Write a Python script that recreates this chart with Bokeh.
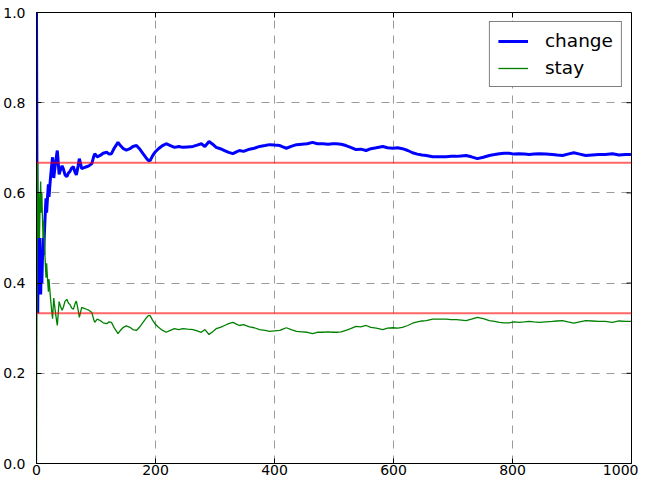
import math
from bokeh.plotting import figure
from bokeh.models import Range1d, FixedTicker, Legend, LegendItem, Span
from bokeh.embed import file_html
from bokeh.resources import INLINE

trial = list(range(0, 39)) + [
    40, 43, 45, 48, 51, 54, 56, 59, 62, 65, 67, 70, 72, 74, 76, 80, 84, 88, 93, 96,
    98, 102, 107, 112, 118, 122, 126, 131, 137, 141, 146, 151, 157, 162, 168, 173, 179, 184, 188, 191,
    195, 199, 205, 212, 218, 225, 232, 239, 246, 254, 263, 270, 277, 283, 290, 296, 302, 309, 316, 323,
    330, 336, 341, 348, 358, 366, 375, 384, 392, 400, 409, 414, 420, 428, 437, 446, 455, 464, 472, 481,
    490, 498, 504, 512, 520, 528, 537, 545, 554, 562, 571, 582, 590, 599, 607, 615, 624, 632, 640, 648,
    655, 666, 677, 688, 697, 706, 714, 722, 731, 741, 751, 761, 770, 778, 786, 794, 803, 811, 820, 828,
    836, 845, 856, 867, 875, 884, 893, 903, 913, 923, 934, 945, 956, 968, 979, 990, 999]

change = [
    1.0, 0.5, 0.333, 0.5, 0.4, 0.5, 0.429, 0.375, 0.444, 0.4, 0.455, 0.5, 0.462, 0.5, 0.533, 0.563,
    0.588, 0.556, 0.579, 0.6, 0.619, 0.591, 0.609, 0.625, 0.64, 0.654, 0.667, 0.679, 0.655, 0.633,
    0.645, 0.656, 0.667, 0.676, 0.686, 0.694, 0.676, 0.658, 0.641,
    0.65, 0.66, 0.654, 0.64, 0.636, 0.645, 0.647, 0.655, 0.658, 0.645,
    0.64, 0.66, 0.676, 0.665, 0.654, 0.656, 0.658, 0.66, 0.665, 0.68,
    0.687, 0.68, 0.683, 0.688, 0.69, 0.686, 0.687, 0.70, 0.712, 0.705,
    0.698, 0.695, 0.698, 0.703, 0.705, 0.698, 0.687, 0.678, 0.672, 0.672,
    0.682, 0.69, 0.698, 0.705, 0.709, 0.705, 0.701, 0.703, 0.701, 0.702,
    0.703, 0.706, 0.709, 0.703, 0.714, 0.708, 0.701, 0.698, 0.694, 0.69,
    0.687, 0.691, 0.694, 0.692, 0.697, 0.699, 0.703, 0.705, 0.707, 0.706,
    0.705, 0.702, 0.699, 0.703, 0.707, 0.708, 0.709, 0.712, 0.709, 0.709,
    0.708, 0.709, 0.709, 0.708, 0.705, 0.701, 0.696, 0.697, 0.694, 0.698,
    0.700, 0.703, 0.700, 0.699, 0.700, 0.698, 0.694, 0.689, 0.686, 0.684,
    0.683, 0.680, 0.680, 0.680, 0.681, 0.681, 0.682, 0.683, 0.680, 0.676,
    0.679, 0.683, 0.685, 0.687, 0.688, 0.688, 0.686, 0.687, 0.686, 0.685,
    0.686, 0.687, 0.686, 0.685, 0.684, 0.683, 0.686, 0.689, 0.686, 0.683,
    0.684, 0.685, 0.685, 0.687, 0.684, 0.685, 0.685]

stay = [
    0.0, 0.5, 0.667, 0.5, 0.6, 0.5, 0.571, 0.625, 0.556, 0.6, 0.545, 0.5, 0.538, 0.5, 0.467, 0.438,
    0.412, 0.444, 0.421, 0.4, 0.381, 0.409, 0.391, 0.375, 0.36, 0.346, 0.333, 0.321, 0.345, 0.367,
    0.355, 0.344, 0.333, 0.324, 0.314, 0.306, 0.324, 0.342, 0.359,
    0.35, 0.34, 0.346, 0.36, 0.364, 0.355, 0.353, 0.345, 0.342, 0.355,
    0.36, 0.34, 0.324, 0.335, 0.346, 0.344, 0.342, 0.34, 0.335, 0.32,
    0.313, 0.32, 0.317, 0.312, 0.31, 0.314, 0.313, 0.30, 0.288, 0.295,
    0.302, 0.305, 0.302, 0.297, 0.295, 0.302, 0.313, 0.322, 0.328, 0.328,
    0.318, 0.31, 0.302, 0.295, 0.291, 0.295, 0.299, 0.297, 0.299, 0.298,
    0.297, 0.294, 0.291, 0.297, 0.286, 0.292, 0.299, 0.302, 0.306, 0.31,
    0.313, 0.309, 0.306, 0.308, 0.303, 0.301, 0.297, 0.295, 0.293, 0.294,
    0.295, 0.298, 0.301, 0.297, 0.293, 0.292, 0.291, 0.288, 0.291, 0.291,
    0.292, 0.291, 0.291, 0.292, 0.295, 0.299, 0.304, 0.303, 0.306, 0.302,
    0.300, 0.297, 0.300, 0.301, 0.300, 0.302, 0.306, 0.311, 0.314, 0.316,
    0.317, 0.320, 0.320, 0.320, 0.319, 0.319, 0.318, 0.317, 0.320, 0.324,
    0.321, 0.317, 0.315, 0.313, 0.312, 0.312, 0.314, 0.313, 0.314, 0.315,
    0.314, 0.313, 0.314, 0.315, 0.316, 0.317, 0.314, 0.311, 0.314, 0.317,
    0.316, 0.315, 0.315, 0.313, 0.316, 0.315, 0.315]

reference_levels = [2 / 3, 1 / 3]
x_ticks = [0, 200, 400, 600, 800, 1000]
y_ticks = [0.0, 0.2, 0.4, 0.6, 0.8, 1.0]
y_tick_labels = {0.0: "0.0", 0.2: "0.2", 0.4: "0.4", 0.6: "0.6", 0.8: "0.8", 1.0: "1.0"}

FONT = "DejaVu Sans"

p = figure(width=638, height=477, output_backend="svg", toolbar_location=None,
           x_range=Range1d(0, 1000), y_range=Range1d(0, 1),
           min_border_left=0, min_border_right=7, min_border_top=12, min_border_bottom=0,
           background_fill_color="white", border_fill_color="white")
p.outline_line_color = "black"
p.outline_line_width = 1

for ax in (p.xaxis[0], p.yaxis[0]):
    ax.axis_line_color = "black"
    ax.major_tick_in = 5
    ax.major_tick_out = 0
    ax.minor_tick_line_color = None
    ax.major_tick_line_color = "black"
    ax.major_label_text_font = FONT
    ax.major_label_text_font_size = "14px"
    ax.major_label_text_color = "black"
p.xaxis[0].ticker = FixedTicker(ticks=x_ticks)
p.yaxis[0].ticker = FixedTicker(ticks=y_ticks)
p.yaxis[0].major_label_overrides = y_tick_labels
p.xaxis[0].major_label_standoff = 1
p.yaxis[0].major_label_standoff = 11

p.xgrid.ticker = FixedTicker(ticks=x_ticks)
p.ygrid.ticker = FixedTicker(ticks=y_ticks)
for g in (p.xgrid[0], p.ygrid[0]):
    g.grid_line_color = "#9a9a9a"
    g.grid_line_width = 1
    g.grid_line_dash = "8 7"

# inward tick marks on the top and right frame edges (half of each dash is clipped by the frame)
p.scatter(x=x_ticks, y=[1.0] * len(x_ticks), marker="dash", size=10, angle=math.pi / 2,
          line_color="black", line_width=1)
p.scatter(x=[1000] * len(y_ticks), y=y_ticks, marker="dash", size=10,
          line_color="black", line_width=1)

r_change = p.line(trial, change, line_color="#0000ff", line_width=3)
r_stay = p.line(trial, stay, line_color="#008000", line_width=1.3)

for lvl in reference_levels:
    p.add_layout(Span(location=lvl, dimension="width", line_color="#ff0000",
                      line_alpha=0.6, line_width=2))

legend = Legend(items=[LegendItem(label="change", renderers=[r_change]),
                       LegendItem(label="stay", renderers=[r_stay])],
                location="top_right")
legend.label_text_font = FONT
legend.label_text_font_size = "18.5px"
legend.label_text_color = "black"
legend.border_line_color = "black"
legend.border_line_width = 1
legend.background_fill_color = "white"
legend.background_fill_alpha = 1
legend.glyph_width = 30
legend.label_standoff = 17
legend.spacing = 6
legend.padding = 8
legend.margin = 9
p.add_layout(legend, "center")

open("out.html", "w").write(file_html(p, INLINE))
